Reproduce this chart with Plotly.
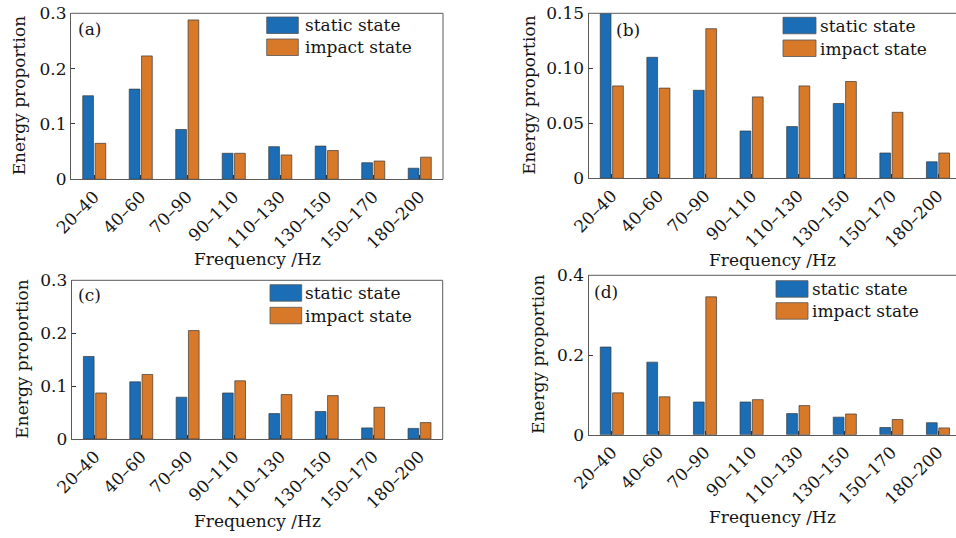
import plotly.graph_objects as go

W, H = 956, 538

# Frequency bands (category labels)
bands = ["20–40", "40–60", "70–90", "90–110", "110–130", "130–150", "150–170", "180–200"]

# Energy proportion per band, four cases (a)–(d)
static_a = [0.151, 0.163, 0.090, 0.047, 0.059, 0.060, 0.030, 0.020]
impact_a = [0.065, 0.223, 0.288, 0.047, 0.044, 0.052, 0.033, 0.040]

static_b = [0.150, 0.110, 0.080, 0.043, 0.047, 0.068, 0.023, 0.015]
impact_b = [0.084, 0.082, 0.136, 0.074, 0.084, 0.088, 0.060, 0.023]

static_c = [0.156, 0.108, 0.079, 0.087, 0.048, 0.052, 0.021, 0.020]
impact_c = [0.087, 0.122, 0.205, 0.110, 0.084, 0.082, 0.060, 0.031]

static_d = [0.220, 0.182, 0.082, 0.082, 0.053, 0.044, 0.018, 0.030]
impact_d = [0.105, 0.095, 0.346, 0.088, 0.073, 0.052, 0.038, 0.017]

series_names = ["static state", "impact state"]
panel_labels = ["(a)", "(b)", "(c)", "(d)"]

y_ticks = {
    "a": ([0, 0.1, 0.2, 0.3], ["0", "0.1", "0.2", "0.3"]),
    "b": ([0, 0.05, 0.10, 0.15], ["0", "0.05", "0.10", "0.15"]),
    "c": ([0, 0.1, 0.2, 0.3], ["0", "0.1", "0.2", "0.3"]),
    "d": ([0, 0.2, 0.4], ["0", "0.2", "0.4"]),
}
y_ranges = {"a": [0, 0.3], "b": [0, 0.15], "c": [0, 0.3], "d": [0, 0.4]}

BLUE = "#1b6db5"
ORANGE = "#d8792a"
AXIS = "#5a5a5a"
TXT = "#141414"
FONT = "DejaVu Serif"
FS = 17


def px(x):
    return x / W


def py(y):
    return 1 - y / H


# Plot-area boxes in pixels: left, right, top, bottom
boxes = {
    "a": (71, 443, 13.3, 179.3),
    "b": (588.5, 956, 13.3, 178.3),
    "c": (71.7, 442.7, 280.3, 439),
    "d": (588.5, 956, 275.3, 434.7),
}
CAT_W = 46.6  # pixels per category on the right-hand panels

data = {
    "a": (static_a, impact_a),
    "b": (static_b, impact_b),
    "c": (static_c, impact_c),
    "d": (static_d, impact_d),
}

fig = go.Figure()
layout = {}
shapes = []
annotations = []

# panel tag centre, legend swatch span, legend text x, swatch tops, y-title x, x-title y
extras = {
    "a": dict(lab=(89, 29), sw=(266.7, 298.3), tx=303, sy=(17, 39), yt=19, xt=259),
    "b": dict(lab=(628, 30), sw=(783, 816), tx=818, sy=(17.3, 40), yt=529, xt=260),
    "c": dict(lab=(89, 295), sw=(270, 301.7), tx=303, sy=(284.7, 307.3), yt=22, xt=520.5),
    "d": dict(lab=(606, 292), sw=(776, 808), tx=810, sy=(280.7, 302.7), yt=538, xt=517),
}

for i, key in enumerate(["a", "b", "c", "d"]):
    n = "" if i == 0 else str(i + 1)
    xa, ya = "x" + n, "y" + n
    L, R, T, B = boxes[key]
    s_vals, i_vals = data[key]
    for name, vals, col in zip(series_names, (s_vals, i_vals), (BLUE, ORANGE)):
        fig.add_trace(go.Bar(
            x=list(range(len(bands))), y=vals, name=name, xaxis=xa, yaxis=ya,
            marker=dict(color=col, line=dict(color="#3a3a3a", width=0.7)),
            showlegend=False,
        ))
    if key in ("a", "c"):
        xr = [-0.5, 7.5]
    else:
        xr = [-0.5, -0.5 + (R - L) / CAT_W]
    layout["xaxis" + n] = dict(
        domain=[px(L), px(R)], anchor=ya, range=xr, automargin=False,
        tickmode="array", tickvals=list(range(len(bands))), ticktext=bands,
        tickangle=-45, ticks="inside", ticklen=4, tickcolor="#333",
        showline=True, linecolor=AXIS, linewidth=1, showgrid=False,
        zeroline=False, tickfont=dict(family=FONT, size=FS, color=TXT),
    )
    tv, tt = y_ticks[key]
    layout["yaxis" + n] = dict(
        domain=[py(B), py(T)], anchor=xa, range=y_ranges[key], automargin=False,
        tickmode="array", tickvals=tv, ticktext=tt,
        ticks="inside", ticklen=4, tickcolor="#333",
        showline=True, linecolor=AXIS, linewidth=1, showgrid=False,
        zeroline=False, tickfont=dict(family=FONT, size=FS, color=TXT),
    )
    # top border (and right border when it falls inside the page)
    shapes.append(dict(type="line", xref="paper", yref="paper",
                       x0=px(L), x1=px(R), y0=py(T), y1=py(T),
                       line=dict(color=AXIS, width=1)))
    if R < W - 2:
        shapes.append(dict(type="line", xref="paper", yref="paper",
                           x0=px(R), x1=px(R), y0=py(B), y1=py(T),
                           line=dict(color=AXIS, width=1)))
    e = extras[key]
    # panel tag
    annotations.append(dict(text=panel_labels[i], x=px(e["lab"][0]), y=py(e["lab"][1]),
                            xref="paper", yref="paper", showarrow=False,
                            xanchor="center", yanchor="middle",
                            font=dict(family=FONT, size=FS, color=TXT)))
    # legend entries
    for name, col, top in zip(series_names, (BLUE, ORANGE), e["sy"]):
        shapes.append(dict(type="rect", xref="paper", yref="paper",
                           x0=px(e["sw"][0]), x1=px(e["sw"][1]),
                           y0=py(top + 16.5), y1=py(top),
                           fillcolor=col, line=dict(color="#555", width=0.8)))
        annotations.append(dict(text=name, x=px(e["tx"]), y=py(top + 8.5),
                                xref="paper", yref="paper", showarrow=False,
                                xanchor="left", yanchor="middle",
                                font=dict(family=FONT, size=FS, color=TXT)))
    # axis titles
    annotations.append(dict(text="Energy proportion", x=px(e["yt"]), y=py((T + B) / 2),
                            xref="paper", yref="paper", showarrow=False, textangle=-90,
                            xanchor="center", yanchor="middle",
                            font=dict(family=FONT, size=FS, color=TXT)))
    xc = (L + min(R, L + 8 * CAT_W)) / 2 if key in ("b", "d") else (L + R) / 2
    annotations.append(dict(text="Frequency /Hz", x=px(xc), y=py(e["xt"]),
                            xref="paper", yref="paper", showarrow=False,
                            xanchor="center", yanchor="middle",
                            font=dict(family=FONT, size=FS, color=TXT)))

fig.update_layout(
    width=W, height=H, margin=dict(l=0, r=0, t=0, b=0),
    paper_bgcolor="white", plot_bgcolor="white",
    barmode="group", bargap=0.47, bargroupgap=0.13,
    showlegend=False, shapes=shapes, annotations=annotations,
    **layout,
)

fig.write_html("out.html")
